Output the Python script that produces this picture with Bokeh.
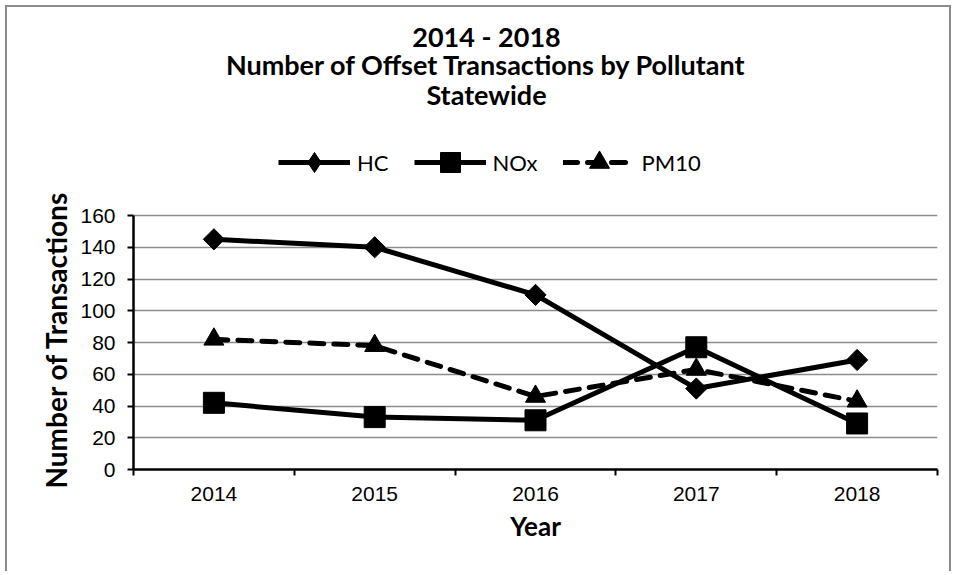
import numpy as np
from bokeh.plotting import figure
from bokeh.models import Range1d, FixedTicker, Legend, LegendItem, Label, Title
from bokeh.embed import file_html
from bokeh.resources import INLINE

# ---- data ----
years = [2014, 2015, 2016, 2017, 2018]
year_labels = ["2014", "2015", "2016", "2017", "2018"]
hc = [145, 140, 110, 51, 69]
nox = [42, 33, 31, 77, 29]
pm10 = [82, 78, 46, 63, 43]
y_ticks = [0, 20, 40, 60, 80, 100, 120, 140, 160]
title_lines = ["2014 - 2018", "Number of Offset Transactions by Pollutant", "Statewide"]
series_names = ["HC", "NOx", "PM10"]
x_title = "Year"
y_title = "Number of Transactions"

TITLE_FONT = "Lato"
TICK_FONT = "Liberation Sans"

# layout (pixels inside the figure)
FRAME_H = 462          # frame spans the whole top area, titles/legend live inside it
AXIS_H = 254           # height of the 0..160 value band
y_end = y_ticks[-1] * FRAME_H / AXIS_H

p = figure(width=946, height=566, output_backend="svg", toolbar_location=None,
           title=None,
           x_range=Range1d(years[0] - 0.5, years[-1] + 0.5),
           y_range=Range1d(y_ticks[0], y_end),
           min_border_left=126, min_border_right=16,
           min_border_top=0, min_border_bottom=566 - FRAME_H)
p.styles = {"border-top": "2px solid #8c8c8c", "border-left": "2px solid #8c8c8c",
            "border-right": "2px solid #8c8c8c", "margin-left": "5px", "margin-top": "5px"}
p.outline_line_color = None
p.background_fill_color = "white"
p.border_fill_color = "white"

# axes
boundaries = [y - 0.5 for y in years] + [years[-1] + 0.5]
p.xaxis.ticker = FixedTicker(ticks=years, minor_ticks=boundaries)
p.xaxis.major_label_overrides = {y: l for y, l in zip(years, year_labels)}
p.yaxis.ticker = FixedTicker(ticks=y_ticks, minor_ticks=[])
p.yaxis.bounds = (y_ticks[0], y_ticks[-1])
for ax in (p.xaxis, p.yaxis):
    ax.axis_line_color = "black"
    ax.axis_line_width = 2.5
    ax.major_tick_line_color = "black"
    ax.major_tick_line_width = 2
    ax.minor_tick_line_color = "black"
    ax.minor_tick_line_width = 2
    ax.major_tick_in = 0
    ax.minor_tick_in = 0
    ax.major_label_text_font = TICK_FONT
    ax.major_label_text_font_size = "21px"
    ax.major_label_text_color = "black"
    ax.axis_label_text_font = TITLE_FONT
    ax.axis_label_text_font_style = "bold"
    ax.axis_label_text_font_size = "26px"
    ax.axis_label_text_color = "black"

p.xaxis.major_tick_out = 0
p.xaxis.minor_tick_out = 6
p.xaxis.major_label_standoff = 11
p.xaxis.axis_label = x_title
p.xaxis.axis_label_standoff = 6
p.yaxis.major_tick_out = 6
p.yaxis.minor_tick_out = 0
p.yaxis.major_label_standoff = 12

# y title as a side title so it can be centred on the 0..160 band
p.add_layout(Title(text=y_title, align="left", offset=-19, standoff=10,
                   text_font=TITLE_FONT, text_font_style="bold",
                   text_font_size="28px", text_color="black"), "left")

p.xgrid.visible = False
p.ygrid.grid_line_color = "#8c8c8c"
p.ygrid.grid_line_width = 1.5

# series
LW = 5
l_hc = p.line(years, hc, line_color="black", line_width=LW)
p.scatter(years, hc, marker="square", angle=np.pi / 4, size=15, color="black")
leg_hc = p.scatter(years, hc, marker="diamond", size=1, color="black")

l_nox = p.line(years, nox, line_color="black", line_width=LW)
m_nox = p.scatter(years, nox, marker="square", size=21, color="black")

l_pm = p.line(years, pm10, line_color="black", line_width=LW, line_dash="14 10",
              line_cap="round")
m_pm = p.scatter(years, pm10, marker="triangle", size=20, color="black")

legend = Legend(items=[
    LegendItem(label=series_names[0], renderers=[l_hc, leg_hc]),
    LegendItem(label=series_names[1], renderers=[l_nox, m_nox]),
    LegendItem(label=series_names[2], renderers=[l_pm, m_pm]),
], orientation="horizontal", location=(145, 282), glyph_width=72, glyph_height=50,
    label_text_font=TITLE_FONT, label_text_font_size="22px", label_text_color="black",
    label_standoff=7, spacing=25, padding=0, margin=0, border_line_color=None,
    background_fill_alpha=0)
p.add_layout(legend, "center")

# title lines
title_y = [433, 405, 375]
for txt, ty in zip(title_lines, title_y):
    p.add_layout(Label(x=353, y=ty, x_units="screen", y_units="screen", text=txt,
                       text_align="center", text_baseline="middle",
                       text_font=TITLE_FONT, text_font_style="bold",
                       text_font_size="27px", text_color="black"))

open("out.html", "w").write(file_html(p, INLINE))
